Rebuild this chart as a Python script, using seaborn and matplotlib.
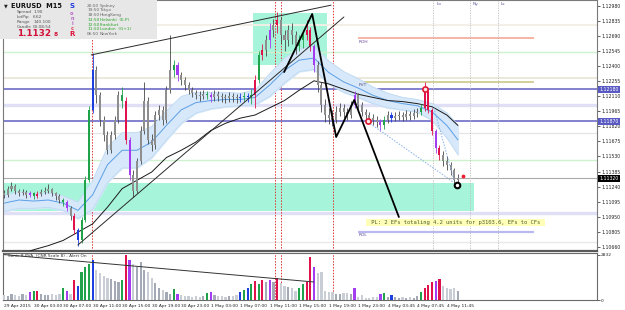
import matplotlib
matplotlib.use("Agg")
import matplotlib.pyplot as plt
import matplotlib.transforms as mtrans
from matplotlib.patches import Rectangle
import numpy as np
import pandas as pd
import seaborn as sns

# EURUSD, one bar per half hour, prices in pips above 1.1000
open_first = 118
close_pips = [116, 122, 125, 120, 118, 119, 116, 118, 115, 117,
              119, 120, 122, 118, 115, 111, 109, 103, 96, 82,
              72, 92, 130, 198, 236, 212, 188, 174, 159, 174,
              188, 212, 207, 169, 135, 120, 149, 178, 207, 169,
              164, 193, 198, 188, 217, 236, 241, 232, 227, 222,
              217, 214, 212, 211, 213, 212, 210, 213, 211, 210,
              209, 211, 210, 209, 210, 211, 210, 212, 227, 251,
              256, 265, 275, 280, 285, 270, 265, 275, 270, 260,
              265, 270, 275, 260, 241, 222, 203, 193, 190, 188,
              196, 200, 196, 193, 203, 212, 203, 196, 193, 190,
              188, 186, 183, 188, 193, 190, 192, 193, 191, 194,
              192, 195, 196, 200, 215, 198, 178, 161, 154, 149,
              145, 140, 130, 132]
high_pips = [121, 125, 128, 126, 122, 122, 121, 120, 119, 120,
             122, 124, 126, 123, 119, 117, 113, 111, 105, 98,
             84, 95, 134, 202, 253, 240, 215, 192, 178, 178,
             192, 216, 220, 210, 172, 140, 152, 182, 225, 210,
             175, 197, 203, 202, 221, 270, 246, 244, 235, 230,
             225, 220, 217, 216, 217, 216, 215, 217, 216, 214,
             213, 215, 214, 213, 214, 215, 214, 218, 232, 255,
             262, 270, 282, 286, 292, 288, 275, 280, 282, 274,
             270, 275, 285, 278, 262, 245, 225, 208, 200, 198,
             202, 205, 204, 200, 207, 216, 214, 206, 199, 196,
             194, 192, 189, 192, 197, 196, 196, 197, 196, 198,
             197, 199, 200, 204, 225, 218, 200, 180, 164, 158,
             153, 148, 142, 136]
low_pips = [113, 114, 120, 117, 115, 116, 113, 114, 112, 113,
            115, 117, 118, 115, 111, 108, 105, 100, 92, 78,
            67, 70, 90, 128, 195, 205, 182, 168, 155, 156,
            170, 185, 200, 165, 130, 114, 118, 146, 175, 165,
            158, 160, 188, 183, 185, 214, 230, 226, 222, 217,
            213, 210, 208, 207, 208, 208, 206, 207, 207, 206,
            205, 206, 206, 205, 206, 207, 206, 204, 200, 224,
            246, 250, 258, 268, 272, 262, 255, 260, 262, 252,
            255, 258, 265, 255, 235, 215, 196, 186, 184, 182,
            185, 192, 190, 188, 190, 200, 198, 192, 188, 185,
            183, 181, 178, 180, 185, 186, 187, 188, 187, 188,
            188, 189, 191, 193, 197, 195, 174, 156, 150, 144,
            140, 135, 125, 128]
tick_volume = [310, 250, 380, 320, 250, 370, 310, 500, 560, 570,
               380, 320, 310, 370, 300, 380, 760, 570, 380, 1260,
               880, 1760, 2080, 2270, 2520, 1890, 1700, 1510, 1390, 1320,
               1200, 1130, 1260, 2832, 2520, 2270, 2080, 2390, 1890, 1760,
               1390, 1070, 760, 630, 500, 380, 690, 380, 310, 250,
               250, 190, 250, 190, 250, 440, 500, 310, 250, 250,
               190, 250, 250, 310, 500, 630, 760, 1010, 1200, 1010,
               1260, 1130, 1260, 1130, 1390, 1070, 880, 820, 760, 570,
               760, 1010, 1130, 2710, 2080, 1700, 1760, 570, 500, 500,
               380, 380, 440, 440, 380, 760, 190, 310, 130, 130,
               190, 190, 380, 440, 190, 310, 190, 130, 190, 130,
               190, 130, 250, 500, 760, 950, 1130, 1200, 1320, 880,
               760, 690, 760, 570]
# PVA class of each bar: . normal, G/R climax, B/V rising volume
pva_class = (".......VGR......GV.RBGGGB.......GRV...........GV......."
             "GV.......BGBGRGR.V.R.....GGRRV..........V......VG.B......."
             "GRRRVR.....")

# dragon (EMA34 of high / low) and slow EMA, read every 4 bars
ema_bars = [0, 4, 8, 12, 16, 20, 24, 28, 32, 36, 40, 44, 48, 52, 56, 60,
            64, 68, 72, 76, 80, 84, 88, 92, 96, 100, 104, 108, 112, 116, 120, 123]
dragon_hi = [116, 119, 117, 118, 115, 109, 130, 162, 176, 176, 182, 197, 211, 215, 215, 215,
             214, 217, 233, 248, 257, 259, 245, 235, 228, 220, 214, 210, 208, 204, 195, 183]
dragon_lo = [100, 103, 103, 104, 101, 93, 102, 128, 142, 142, 152, 169, 185, 195, 199, 201,
             202, 203, 211, 224, 235, 237, 223, 215, 210, 204, 200, 198, 196, 188, 171, 155]
ema_slow = [55, 58, 63, 67, 72, 80, 88, 104, 122, 130, 138, 152, 159, 167, 178, 185,
            190, 193, 200, 207, 217, 226, 223, 218, 213, 210, 207, 206, 204, 201, 193, 183]

# drawn objects (bar, pips)
channel_bars, channel_pips = [23.6, 88.6], [251, 299]
support_bars, support_pips = [20, 92.1], [67.6, 287.6]
zigzag_bars = [75.9, 83.5, 90, 94.9, 107]
zigzag_pips = [234.5, 290.5, 171.8, 207.5, 94.6]
proj1_bars, proj1_pips = [98.6, 121.7], [186.3, 128.4]
proj2_bars, proj2_pips = [116.5, 121.9], [199.8, 130.3]
pva_trend_bars, pva_trend_vals = [0, 84], [2850, 1130]

level_hi, level_lo, last_price = 1.12180, 1.11870, 1.11320
roh, pvt, rol = 1.12673, 1.12249, 1.10801
pivot_levels = [1.12799, 1.12538, 1.12287, 1.12027, 1.11757, 1.11496, 1.10985, 1.10705]
pivot_colors = ["#F1EFE6", "#CDF2CD", "#ECE8DC", "#DFDFF6", "#E6E6E6", "#CDF2CD", "#DFDFF6", "#E9E9E9"]
pivot_widths = [1.4, 1.0, 1.4, 2.4, 1.0, 1.0, 2.4, 1.0]
red_marks = [23.8, 73.4, 75.1, 89.2]
session_marks = [116.3, 126.3, 133.9]
session_names = ["Lo", "Ny", "Lc"]

price_ticks = [1.10660, 1.10805, 1.10950, 1.11095, 1.11240, 1.11385, 1.11530, 1.11675,
               1.11820, 1.11965, 1.12110, 1.12255, 1.12400, 1.12545, 1.12690, 1.12835, 1.12980]
time_bars = [0, 8, 16, 24, 32, 40, 48, 56, 64, 72, 80, 88, 96, 104, 112, 120]
time_labels = ["29 Apr 2015", "30 Apr 03:00", "30 Apr 07:00", "30 Apr 11:00", "30 Apr 15:00",
               "30 Apr 19:00", "30 Apr 23:00", "1 May 03:00", "1 May 07:00", "1 May 11:00",
               "1 May 15:00", "1 May 19:00", "1 May 23:00", "4 May 03:45", "4 May 07:45",
               "4 May 11:45"]

sessions = ["20:50", "19:50", "18:50", "13:50", "12:50", "11:50", "06:50"]
cities = ["Sydney", "Tokyo", "HongKong", "Helsinki  (E.P)", "Frankfurt", "London  (G+1)", "NewYork"]


def pr(p):
    return 1.1 + np.asarray(p, dtype=float) / 1e4


sns.set_theme(style="white")
plt.rcParams["font.family"] = ["DejaVu Sans"]

n = len(close_pips)
bars = pd.DataFrame({
    "bar": np.arange(n),
    "open": pr([open_first] + close_pips[:-1]),
    "high": pr(high_pips),
    "low": pr(low_pips),
    "close": pr(close_pips),
    "volume": tick_volume,
    "pva": list(pva_class),
})
pva_colors = {"G": "#1FA24A", "R": "#E0124C", "B": "#1E3FE0", "V": "#A43CF0"}

fig = plt.figure(figsize=(6.25, 3.1), dpi=100)
fig.patch.set_facecolor("white")
ax = fig.add_axes([3 / 625, 59 / 310, 594 / 625, 251 / 310])
axv = fig.add_axes([3 / 625, 10 / 310, 594 / 625, 47 / 310])
xlim = (-0.3, 160.7)

# zones
ax.add_patch(Rectangle((-0.3, pr(100.4)), 127.7, pr(127.4) - pr(100.4), fc="#A6F5DA", ec="none", zorder=0.5))
ax.add_patch(Rectangle((67.5, pr(241.3)), 20, pr(291.5) - pr(241.3), fc="#A6F5DA", ec="none", zorder=0.5))

# level lines
for lv, c, w in zip(pivot_levels, pivot_colors, pivot_widths):
    ax.axhline(lv, color=c, lw=w, zorder=1)
ax.axhline(last_price, color="#ABABAB", lw=0.8, zorder=1)
ax.axhline(level_hi, color="#5F5FC4", lw=1.1, zorder=1.2)
ax.axhline(level_lo, color="#5F5FC4", lw=1.1, zorder=1.2)
ax.hlines(roh, 95.9, 143.6, color="#F4A08C", lw=1.1, zorder=1.2)
ax.hlines(pvt, 95.9, 143.6, color="#C6C27A", lw=1.1, zorder=1.2)
ax.hlines(rol, 95.9, 143.6, color="#B9B9F0", lw=1.6, zorder=1.2)
ax.text(96.2, roh - 0.0002, "ROH", fontsize=3.2, color="#6A4A9A", va="top", zorder=7)
ax.text(96.2, pvt - 0.0001, "PVT", fontsize=3.2, color="#5A4A7A", va="top", zorder=7)
ax.text(96.2, rol - 0.0001, "ROL", fontsize=3.2, color="#5A4A9A", va="top", zorder=7)

for b in red_marks:
    ax.axvline(b, color="#E03434", lw=0.7, ls=(0, (1.5, 1.5)), zorder=1.5)
    axv.axvline(b, color="#E03434", lw=0.7, ls=(0, (1.5, 1.5)), zorder=1.5)
for b, name in zip(session_marks, session_names):
    ax.axvline(b, color="#BDBDBD", lw=0.6, ls=(0, (1.5, 1.5)), zorder=1.5)
    ax.text(b + 0.8, 1.1300, name, fontsize=3.2, color="#6060A0", va="center", zorder=7)

# dragon band and moving averages
ax.fill_between(ema_bars, pr(dragon_lo), pr(dragon_hi), color="#D6E8F9", zorder=2)
sns.lineplot(x=ema_bars, y=pr(dragon_hi), ax=ax, color="#BCD7F2", lw=0.5, zorder=2.1)
sns.lineplot(x=ema_bars, y=pr(dragon_lo), ax=ax, color="#BCD7F2", lw=0.5, zorder=2.1)
dragon_mid = (pr(dragon_hi) + pr(dragon_lo)) / 2
sns.lineplot(x=ema_bars, y=dragon_mid, ax=ax, color="#5C9FE6", lw=0.7, zorder=2.2)
sns.lineplot(x=ema_bars, y=pr(ema_slow), ax=ax, color="#1A1A1A", lw=0.7, zorder=3)

# candles
for r in bars.itertuples():
    body_c = pva_colors.get(r.pva, "#8E8E8E")
    wick_c = pva_colors.get(r.pva, "#474747")
    ax.vlines(r.bar, r.low, r.high, color=wick_c, lw=0.6, zorder=4)
    lo_b, hi_b = min(r.open, r.close), max(r.open, r.close)
    ax.bar(r.bar, max(hi_b - lo_b, 0.00003), bottom=lo_b, width=0.55, color=body_c, lw=0, zorder=4.1)

# drawn lines
sns.lineplot(x=channel_bars, y=pr(channel_pips), ax=ax, color="#2A2A2A", lw=0.7, zorder=5)
sns.lineplot(x=support_bars, y=pr(support_pips), ax=ax, color="#2A2A2A", lw=0.7, zorder=5)
ax.plot(zigzag_bars, pr(zigzag_pips), color="black", lw=1.3, zorder=5.2)
ax.plot(proj1_bars, pr(proj1_pips), color="#86AEE6", lw=0.7, ls=(0, (1.5, 1.5)), zorder=5)
ax.plot(proj2_bars, pr(proj2_pips), color="#86AEE6", lw=0.7, ls=(0, (1.5, 1.5)), zorder=5)
ax.scatter([114.1, 98.6], [level_hi, level_lo], s=14, facecolor="#FFE8E8", edgecolor="#E01830", lw=1.2, zorder=6)
ax.scatter([122.8], [pr(125.5)], s=16, facecolor="white", edgecolor="black", lw=1.5, zorder=6)
ax.scatter([124.4], [pr(134)], s=3, color="#F02030", zorder=6)

ax.text(98.6, pr(89.3), " PL: 2 EFs totaling 4.2 units for p3103.6, EFs to CFs ", fontsize=4.0,
        family="DejaVu Sans Mono", color="#4F5F2F", va="center", ha="left", zorder=7,
        bbox=dict(boxstyle="square,pad=0.25", fc="#FFFFB8", ec="none"))

ax.set_xlim(*xlim)
ax.set_ylim(pr(61.8), pr(304))
ax.set_xticks([])
ax.yaxis.tick_right()
ax.set_yticks(price_ticks)
ax.set_yticklabels([f"{v:.5f}" for v in price_ticks], fontsize=3.3)
ax.tick_params(axis="y", length=2, width=0.5, pad=1, colors="#222222")
for s in ax.spines.values():
    s.set_color("#7A7A7A")
    s.set_linewidth(0.8)
ax.spines["bottom"].set_linewidth(1.6)
ax.spines["bottom"].set_color("#5A5A5A")

blend = mtrans.blended_transform_factory(ax.transAxes, ax.transData)
for v, fc in [(level_hi, "#5A5AC4"), (level_lo, "#5A5AC4"), (last_price, "#000000")]:
    ax.text(1.004, v, f"{v:.5f}", transform=blend, fontsize=3.3, color="white", va="center",
            ha="left", zorder=8, bbox=dict(boxstyle="square,pad=0.2", fc=fc, ec="none"), clip_on=False)

# Sonic R PVA volume panel
vol_colors = []
for r in bars.itertuples():
    if r.pva in pva_colors:
        vol_colors.append(pva_colors[r.pva])
    else:
        vol_colors.append("#A3AAB5" if r.close >= r.open else "#C9CED6")
axv.bar(bars["bar"], bars["volume"], width=0.6, color=vol_colors, lw=0, zorder=3)
sns.lineplot(x=pva_trend_bars, y=pva_trend_vals, ax=axv, color="#333333", lw=0.7, zorder=4)
axv.text(1, 2750, "Sonic R PVA  (CNR Scale 8) - Alert On", fontsize=3.1, color="#333333", va="center", zorder=5)
axv.set_xlim(*xlim)
axv.set_ylim(0, 2950)
axv.yaxis.tick_right()
axv.set_yticks([0, 2832])
axv.set_yticklabels(["0", "2832"], fontsize=3.2)
axv.set_xticks(time_bars)
axv.set_xticklabels(time_labels, fontsize=3.2, ha="left")
axv.tick_params(axis="both", length=2, width=0.5, pad=1, colors="#222222")
for s in axv.spines.values():
    s.set_color("#6A6A6A")
    s.set_linewidth(0.8)

# info panel
W, H = 625, 310


def fpos(x, y):
    return x / W, 1 - y / H


fig.patches.append(Rectangle((0, 1 - 39 / H), 157 / W, 39 / H, transform=fig.transFigure,
                             fc="#E7E7E7", ec="none", zorder=9))
fig.text(*fpos(4, 6), "\u25bc", fontsize=3.5, color="#222222", va="center", zorder=10)
fig.text(*fpos(11, 6), "EURUSD  M15", fontsize=4.8, weight="bold", color="#111111", va="center", zorder=10)
for i, (k, v) in enumerate([("Spread", "1.90"), ("LotPip", "6.62"), ("Range", "140.100"), ("Candle", "00:08:54")]):
    fig.text(*fpos(17, 12.3 + 4.8 * i), k, fontsize=3.1, color="#555555", va="center", zorder=10)
    fig.text(*fpos(33, 12.3 + 4.8 * i), v, fontsize=3.1, color="#555555", va="center", zorder=10)
fig.text(*fpos(17, 33.5), "1.1132", fontsize=6.3, weight="bold", color="#D3123A", va="center", zorder=10)
fig.text(*fpos(54, 34), "8", fontsize=4.2, weight="bold", color="#D3123A", va="center", zorder=10)
for ch, yy, c, fs in [("S", 6, "#1E3CDC", 5), ("o", 13.5, "#B868C8", 3.6), ("n", 18.5, "#B868C8", 3.6),
                      ("i", 23.5, "#B868C8", 3.6), ("c", 28, "#E04060", 3.6), ("R", 33.5, "#E0123C", 5)]:
    fig.text(*fpos(72, yy), ch, fontsize=fs, weight="bold", color=c, va="center", ha="center", zorder=10)
for i, (t, c) in enumerate(zip(sessions, cities)):
    col = "#27A327" if 3 <= i <= 5 else "#666666"
    fig.text(*fpos(87, 5.7 + 4.75 * i), t, fontsize=3.1, color=col, va="center", zorder=10)
    fig.text(*fpos(100, 5.7 + 4.75 * i), c, fontsize=3.1, color=col, va="center", zorder=10)

fig.savefig("out.png", dpi=100)
